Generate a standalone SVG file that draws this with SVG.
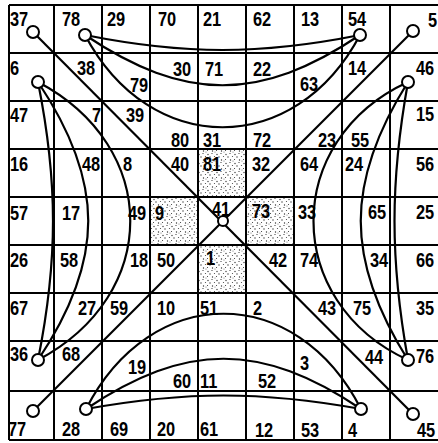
<svg xmlns="http://www.w3.org/2000/svg" width="438" height="443" viewBox="0 0 438 443">
<defs>
<pattern id="stip" width="9" height="9" patternUnits="userSpaceOnUse">
<circle cx="1" cy="1.5" r="0.7" fill="#333"/><circle cx="5" cy="0.5" r="0.6" fill="#444"/><circle cx="3" cy="4" r="0.7" fill="#333"/><circle cx="7.5" cy="3.5" r="0.6" fill="#444"/><circle cx="0.5" cy="6.5" r="0.6" fill="#444"/><circle cx="5.5" cy="7" r="0.7" fill="#333"/><circle cx="8" cy="8" r="0.5" fill="#555"/>
</pattern>
</defs>
<style>
.g{stroke:#000;stroke-width:2;fill:none}
.c{stroke:#000;stroke-width:2.2;fill:none}
.n{fill:#fff;stroke:#000;stroke-width:2}
text{font-family:"Liberation Sans",Arial,sans-serif;font-weight:bold;font-size:21px;fill:#000}
</style>
<rect width="438" height="443" fill="#fff"/>
<g id="shade">
<rect x="198" y="149" width="48" height="48" fill="url(#stip)"/>
<rect x="150" y="197" width="48" height="48" fill="url(#stip)"/>
<rect x="246" y="197" width="48" height="48" fill="url(#stip)"/>
<rect x="198" y="245" width="48" height="48" fill="url(#stip)"/>
</g>
<g id="grid" class="g">
<path d="M9 5V440M54 5V440M102 5V440M150 5V440M198 5V440M246 5V440M294 5V440M342 5V440M390 5V440"/>
<path d="M9 5H438M9 53H438M9 101H438M9 149H438M9 197H438M9 245H438M9 293H438M9 341H438M9 391H438M9 440H438"/>
</g>
<g id="connectors" class="c">
<path d="M33 32L413 414"/>
<path d="M413 31L33 411"/>
<path d="M85 35C185 55 260 55 360 35"/>
<path d="M85 35C185 102 260 102 360 35"/>
<path d="M85 35C150 158 295 158 360 35"/>
<path d="M38 82C58 182 58 260 38 360"/>
<path d="M38 82C105 182 105 260 38 360"/>
<path d="M38 82C161 147 161 295 38 360"/>
<path d="M408 82C390 182 390 260 408 360"/>
<path d="M408 82C345 182 345 260 408 360"/>
<path d="M408 82C282 140 282 302 408 360"/>
<path d="M86 409C186 391 261 391 361 409"/>
<path d="M86 409C186 342 261 342 361 409"/>
<path d="M86 409C151 282 296 282 361 409"/>
</g>
<g id="nodes">
<g id="n37"><circle class="n" cx="33" cy="32" r="6"/></g>
<g id="n78"><circle class="n" cx="85" cy="35" r="6"/></g>
<g id="n54"><circle class="n" cx="360" cy="35" r="6"/></g>
<g id="n5"><circle class="n" cx="413" cy="31" r="6"/></g>
<g id="n6"><circle class="n" cx="38" cy="82" r="6"/></g>
<g id="n46"><circle class="n" cx="408" cy="82" r="6"/></g>
<g id="n41"><circle class="n" cx="223" cy="221" r="5"/></g>
<g id="n36"><circle class="n" cx="38" cy="360" r="6"/></g>
<g id="n76"><circle class="n" cx="408" cy="360" r="6"/></g>
<g id="n77"><circle class="n" cx="33" cy="411" r="6"/></g>
<g id="n28"><circle class="n" cx="86" cy="409" r="6"/></g>
<g id="n4"><circle class="n" cx="361" cy="409" r="6"/></g>
<g id="n45"><circle class="n" cx="413" cy="414" r="6"/></g>
</g>
<g id="labels">
<text transform="translate(10,26) scale(.78,1)">37</text><text transform="translate(62,26) scale(.78,1)">78</text><text transform="translate(107,26) scale(.78,1)">29</text><text transform="translate(158,26) scale(.78,1)">70</text><text transform="translate(203,26) scale(.78,1)">21</text><text transform="translate(253,26) scale(.78,1)">62</text><text transform="translate(301,26) scale(.78,1)">13</text><text transform="translate(348,26) scale(.78,1)">54</text><text transform="translate(428,27) scale(.78,1)">5</text>
<text transform="translate(10,75) scale(.78,1)">6</text><text transform="translate(77,75) scale(.78,1)">38</text><text transform="translate(130,92) scale(.78,1)">79</text><text transform="translate(173,76) scale(.78,1)">30</text><text transform="translate(205,76) scale(.78,1)">71</text><text transform="translate(253,76) scale(.78,1)">22</text><text transform="translate(300,91) scale(.78,1)">63</text><text transform="translate(348,75) scale(.78,1)">14</text><text transform="translate(416,75) scale(.78,1)">46</text>
<text transform="translate(10,122) scale(.78,1)">47</text><text transform="translate(92,122) scale(.78,1)">7</text><text transform="translate(126,122) scale(.78,1)">39</text><text transform="translate(171,147) scale(.78,1)">80</text><text transform="translate(203,147) scale(.78,1)">31</text><text transform="translate(253,147) scale(.78,1)">72</text><text transform="translate(318,147) scale(.78,1)">23</text><text transform="translate(351,147) scale(.78,1)">55</text><text transform="translate(416,121) scale(.78,1)">15</text>
<text transform="translate(10,171) scale(.78,1)">16</text><text transform="translate(82,171) scale(.78,1)">48</text><text transform="translate(123,171) scale(.78,1)">8</text><text transform="translate(171,171) scale(.78,1)">40</text><text transform="translate(203,171) scale(.78,1)">81</text><text transform="translate(252,171) scale(.78,1)">32</text><text transform="translate(300,171) scale(.78,1)">64</text><text transform="translate(345,171) scale(.78,1)">24</text><text transform="translate(416,171) scale(.78,1)">56</text>
<text transform="translate(10,220) scale(.78,1)">57</text><text transform="translate(62,220) scale(.78,1)">17</text><text transform="translate(128,220) scale(.78,1)">49</text><text transform="translate(155,220) scale(.78,1)">9</text><text transform="translate(212,216) scale(.78,1)">41</text><text transform="translate(252,218) scale(.78,1)">73</text><text transform="translate(298,219) scale(.78,1)">33</text><text transform="translate(368,219) scale(.78,1)">65</text><text transform="translate(416,219) scale(.78,1)">25</text>
<text transform="translate(10,267) scale(.78,1)">26</text><text transform="translate(60,267) scale(.78,1)">58</text><text transform="translate(130,267) scale(.78,1)">18</text><text transform="translate(157,267) scale(.78,1)">50</text><text transform="translate(206,265) scale(.78,1)">1</text><text transform="translate(269,267) scale(.78,1)">42</text><text transform="translate(300,267) scale(.78,1)">74</text><text transform="translate(370,267) scale(.78,1)">34</text><text transform="translate(416,267) scale(.78,1)">66</text>
<text transform="translate(10,315) scale(.78,1)">67</text><text transform="translate(78,315) scale(.78,1)">27</text><text transform="translate(110,315) scale(.78,1)">59</text><text transform="translate(157,315) scale(.78,1)">10</text><text transform="translate(200,315) scale(.78,1)">51</text><text transform="translate(253,315) scale(.78,1)">2</text><text transform="translate(318,315) scale(.78,1)">43</text><text transform="translate(353,315) scale(.78,1)">75</text><text transform="translate(416,315) scale(.78,1)">35</text>
<text transform="translate(10,361) scale(.78,1)">36</text><text transform="translate(62,361) scale(.78,1)">68</text><text transform="translate(128,374) scale(.78,1)">19</text><text transform="translate(173,388) scale(.78,1)">60</text><text transform="translate(200,388) scale(.78,1)">11</text><text transform="translate(258,388) scale(.78,1)">52</text><text transform="translate(300,370) scale(.78,1)">3</text><text transform="translate(365,364) scale(.78,1)">44</text><text transform="translate(416,363) scale(.78,1)">76</text>
<text transform="translate(8,436) scale(.78,1)">77</text><text transform="translate(62,436) scale(.78,1)">28</text><text transform="translate(110,436) scale(.78,1)">69</text><text transform="translate(157,436) scale(.78,1)">20</text><text transform="translate(200,436) scale(.78,1)">61</text><text transform="translate(255,437) scale(.78,1)">12</text><text transform="translate(301,437) scale(.78,1)">53</text><text transform="translate(348,437) scale(.78,1)">4</text><text transform="translate(417,437) scale(.78,1)">45</text>
</g>
</svg>
